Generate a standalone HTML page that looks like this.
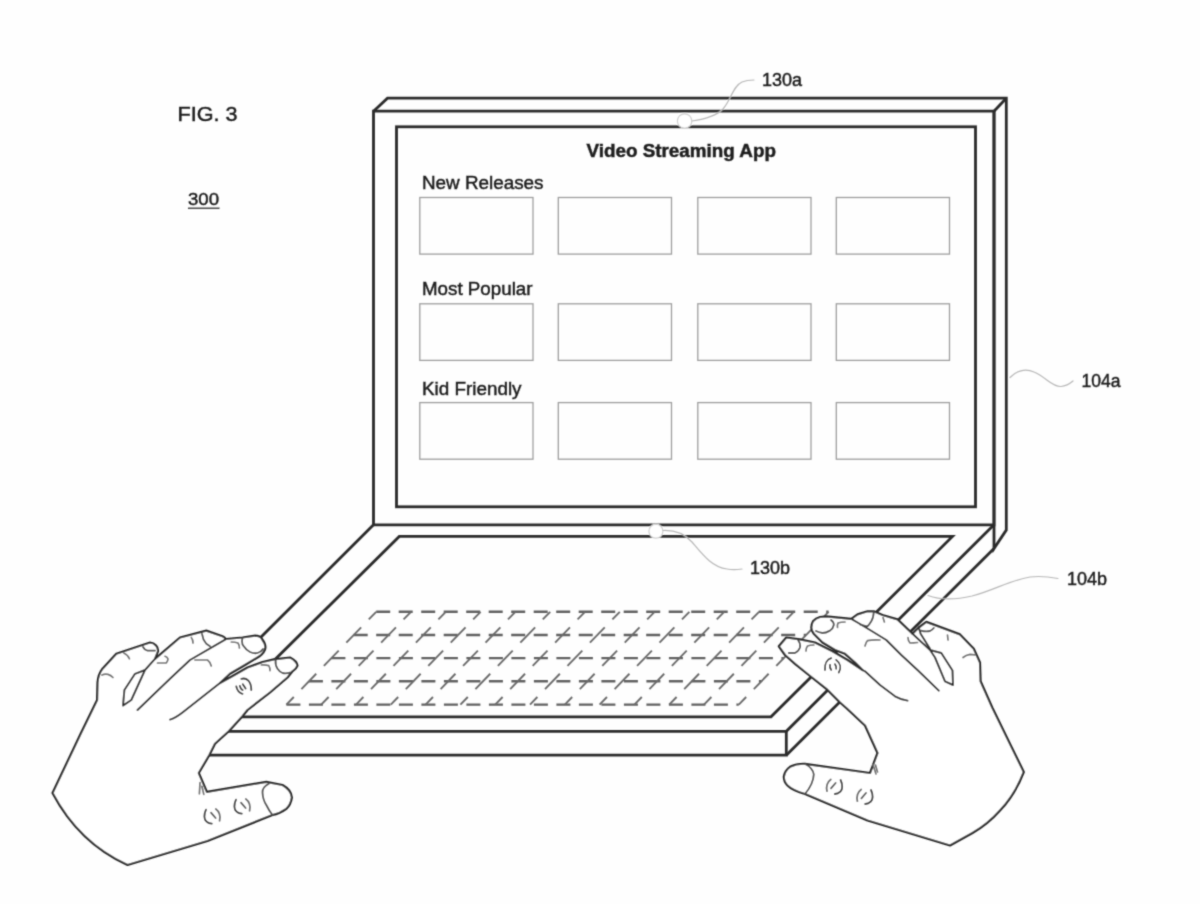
<!DOCTYPE html>
<html lang="en">
<head>
<meta charset="utf-8">
<title>FIG. 3 - Video Streaming App</title>
<style>
html,body{margin:0;padding:0;background:#fefefe;}
body{width:1200px;height:904px;overflow:hidden;font-family:"Liberation Sans",Arial,sans-serif;}
svg{display:block;}
</style>
</head>
<body>
<svg width="1200" height="904" viewBox="0 0 1200 904">
<defs><filter id="soft" x="0" y="0" width="100%" height="100%" filterUnits="userSpaceOnUse"><feConvolveMatrix order="3" kernelMatrix="1 4 1 4 16 4 1 4 1" divisor="36" edgeMode="duplicate" preserveAlpha="false"/></filter></defs>
<rect width="1200" height="904" fill="#fefefe"/>
<g filter="url(#soft)">
<g fill="none" stroke="#2a2a2a" stroke-width="2.8" stroke-linejoin="miter" stroke-linecap="butt">
<path d="M373.5,111.2 L387.5,98.2 L1006.3,98.2 L1006.3,530 L994,548.5 L994,111.2"/>
<path d="M994,111.2 L1006.3,98.2"/>
<path d="M373.5,524.8 L373.5,111.2 L994,111.2 L994,524.8 Z"/>
<rect x="396.5" y="126.8" width="579" height="380"/>
</g>
<g fill="none" stroke="#2a2a2a" stroke-width="2.8" stroke-linejoin="miter">
<path d="M373.5,524.8 L166.5,731.3 L786.3,731.3 L994,524.8"/>
<path d="M166.5,731.3 L166.5,755.2 L786.3,755.2 L786.3,731.3"/>
<path d="M786.3,755.2 L994,548.5"/>
<path d="M399.3,536.4 L952.5,536.4 L771,716.8 L217,716.8 Z"/>
</g>
<g fill="none" stroke="#9e9e9e" stroke-width="1.3">
<rect x="419.8" y="197.5" width="113.2" height="56.6"/>
<rect x="558.3" y="197.5" width="113.2" height="56.6"/>
<rect x="697.8" y="197.5" width="113.2" height="56.6"/>
<rect x="836.3" y="197.5" width="113.2" height="56.6"/>
<rect x="419.8" y="303.8" width="113.2" height="56.6"/>
<rect x="558.3" y="303.8" width="113.2" height="56.6"/>
<rect x="697.8" y="303.8" width="113.2" height="56.6"/>
<rect x="836.3" y="303.8" width="113.2" height="56.6"/>
<rect x="419.8" y="402.6" width="113.2" height="56.6"/>
<rect x="558.3" y="402.6" width="113.2" height="56.6"/>
<rect x="697.8" y="402.6" width="113.2" height="56.6"/>
<rect x="836.3" y="402.6" width="113.2" height="56.6"/>
</g>
<g fill="none" stroke="#606060" stroke-width="2.4" >
<path d="M376.2,611.8 L828.6,611.8" stroke-dasharray="14 8.5"/>
<path d="M353.7,635 L806.1,635" stroke-dasharray="14 8.5"/>
<path d="M331.4,658.1 L783.8,658.1" stroke-dasharray="14 8.5"/>
<path d="M308.9,681.3 L761.3,681.3" stroke-dasharray="14 8.5"/>
<path d="M286.4,704.6 L738.8,704.6" stroke-dasharray="14 8.5"/>
<path d="M376.2,611.8 L286.4,704.6" stroke-dasharray="21.31 10.98" stroke-dashoffset="10.65" stroke-width="1.9" stroke="#6a6a6a"/>
<path d="M411.0,611.8 L321.2,704.6" stroke-dasharray="21.31 10.98" stroke-dashoffset="10.65" stroke-width="1.9" stroke="#6a6a6a"/>
<path d="M445.8,611.8 L356.0,704.6" stroke-dasharray="21.31 10.98" stroke-dashoffset="10.65" stroke-width="1.9" stroke="#6a6a6a"/>
<path d="M480.6,611.8 L390.8,704.6" stroke-dasharray="21.31 10.98" stroke-dashoffset="10.65" stroke-width="1.9" stroke="#6a6a6a"/>
<path d="M515.4,611.8 L425.6,704.6" stroke-dasharray="21.31 10.98" stroke-dashoffset="10.65" stroke-width="1.9" stroke="#6a6a6a"/>
<path d="M550.2,611.8 L460.4,704.6" stroke-dasharray="21.31 10.98" stroke-dashoffset="10.65" stroke-width="1.9" stroke="#6a6a6a"/>
<path d="M585.0,611.8 L495.2,704.6" stroke-dasharray="21.31 10.98" stroke-dashoffset="10.65" stroke-width="1.9" stroke="#6a6a6a"/>
<path d="M619.8,611.8 L530.0,704.6" stroke-dasharray="21.31 10.98" stroke-dashoffset="10.65" stroke-width="1.9" stroke="#6a6a6a"/>
<path d="M654.6,611.8 L564.8,704.6" stroke-dasharray="21.31 10.98" stroke-dashoffset="10.65" stroke-width="1.9" stroke="#6a6a6a"/>
<path d="M689.4,611.8 L599.6,704.6" stroke-dasharray="21.31 10.98" stroke-dashoffset="10.65" stroke-width="1.9" stroke="#6a6a6a"/>
<path d="M724.2,611.8 L634.4,704.6" stroke-dasharray="21.31 10.98" stroke-dashoffset="10.65" stroke-width="1.9" stroke="#6a6a6a"/>
<path d="M759.0,611.8 L669.2,704.6" stroke-dasharray="21.31 10.98" stroke-dashoffset="10.65" stroke-width="1.9" stroke="#6a6a6a"/>
<path d="M793.8,611.8 L704.0,704.6" stroke-dasharray="21.31 10.98" stroke-dashoffset="10.65" stroke-width="1.9" stroke="#6a6a6a"/>
<path d="M828.6,611.8 L738.8,704.6" stroke-dasharray="21.31 10.98" stroke-dashoffset="10.65" stroke-width="1.9" stroke="#6a6a6a"/>
</g>
<g fill="none" stroke="#b8b8b8" stroke-width="1.2" stroke-linecap="round">
<circle cx="684.6" cy="121" r="7.2" fill="#fff" stroke="#cfcfcf"/>
<path d="M692,121 C706,119 716,116 723,109 C731,100 733,86 742,82 C746,80.3 750,80 754,80"/>
<circle cx="655.9" cy="531.2" r="7" fill="#fff" stroke="#cfcfcf"/>
<path d="M663,530.5 C675,530 684,533 692,542 C703,555 712,567 727,569 C733,570 738,569.5 742,569"/>
<path d="M1010,377.5 C1016,371 1025,368 1034,372 C1046,377 1052,387 1061,386.5 C1066,386 1070,383.5 1073,381"/>
<path d="M928,595.5 C940,600 955,600 972,596 C995,590 1010,580 1030,577 C1042,575.5 1050,577 1058,578.5"/>
</g>
<g fill="#fff" stroke="#2e2e2e" stroke-width="2.2" stroke-linejoin="round" stroke-linecap="round">
<path d="M52.5,793 L81,733 L97.1,700 L97.5,682.5 C98,676 100,672 102.5,668.7 L116.3,653.7 L150,642.5 C155,643 158.5,647 158,651.3 L155,658.8 L180,637.5 L206.3,630.6 L222.5,636.3 C224.5,637.3 225.3,638.2 225.6,639 L242.5,637.5 L255,635.6 C259,635.6 261,637 262,639 C265,643 266.3,646 265,649.5 C263.5,653 261,655.5 257.5,657.5 L245,665 L230,673.8 L220,683 L230,677.5 L247.5,667.5 L262.5,662 L273.8,659.4 L290,657.5 C294,659.5 297,662.5 297.5,665.6 C296.5,668.5 294.5,670 292.5,671.3 L287.5,677.5 L270,692.5 L247.5,710 L242.5,716.3 L228.8,731.3 L215,743.8 L209.4,755 L198.8,773 L206.9,791.9 L266.3,781.9 L282.5,785 C288,788 291.5,792.5 291.9,797.5 C291,803 289,806.5 286.3,808.8 C282,812 277.5,814 272.5,815 L207.5,841 L127.5,865 Q79,843 52.5,793 Z"/>
</g>
<g fill="none" stroke="#2e2e2e" stroke-width="1.95" stroke-linejoin="round" stroke-linecap="round">
<path d="M155,658.8 L145,670 L135,673.8 L124.4,690 L123,705.6 L131.3,700 L145,670"/>
<path d="M225.6,639.4 L190,660 L170,678.8 L137.5,710"/>
<path d="M220,683 L182.5,712.5 C178,716 174,718.5 170,719.6"/>
<path d="M202,633.8 C202.5,638 204,641 206.3,643.8 L210,646.3" stroke="#484848" stroke-width="1.8"/>
<path d="M242.5,638 C241.5,642 242,644.5 243.8,646.3 C245.5,649 247.5,650.8 250,652 C253,653.3 255.5,653.5 257.5,653 C260.5,652 262,650.5 263,649" stroke="#484848" stroke-width="1.8"/>
<path d="M275.6,660 C275.3,663.5 276,666.5 277.5,668.8 C279,671 280.5,672.3 282.5,673 C285,673.6 287.5,673.3 290,672.5" stroke="#484848" stroke-width="1.8"/>
<path d="M143,647 C144,649 145.5,650.2 147.5,650.6 L155,650.6" stroke="#484848" stroke-width="1.8"/>
<path d="M268.8,783.8 C264.5,786 262.3,789 262.5,792.5 C262.7,797.5 264,801.5 266.3,805 C268,808.5 270,812 272.5,815" stroke="#484848" stroke-width="1.8"/>
<path d="M123.8,653 C126.5,654.3 128.5,656.3 129.4,658.8" stroke="#6c6c6c" stroke-width="1.7"/>
<path d="M102,675 C104,674 106,674 108,674.4 C110,675 111.8,676.2 113,677.5" stroke="#6c6c6c" stroke-width="1.7"/>
<path d="M191.3,637.5 C192.5,639 193,641 193,643" stroke="#6c6c6c" stroke-width="1.7"/>
<path d="M195,660 L207.5,660 C209.5,661.5 210.8,663.5 211.3,666" stroke="#6c6c6c" stroke-width="1.7"/>
<path d="M231.3,642 C234,642 236,642.3 238,643 C239,644.5 239.4,646 239.4,648" stroke="#6c6c6c" stroke-width="1.7"/>
<path d="M261.3,665 C264,664.8 266.5,665 268.8,665.6 C269.7,667 270,668.8 270,670.6" stroke="#6c6c6c" stroke-width="1.7"/>
<path d="M157.5,663 L166.3,663 C167.5,661.5 168,660 168,658.8 C167.3,657.5 166.3,656.7 165,656.3" stroke="#6c6c6c" stroke-width="1.7"/>
<path d="M200,782.5 L199.4,793.8" stroke="#6c6c6c" stroke-width="1.7"/>
<path d="M201.9,786.3 L203.8,794.4" stroke="#6c6c6c" stroke-width="1.7"/>
<g transform="translate(243.8,686.3)" stroke-width="1.8"><path d="M-2.5,-7.5 C3,-9 7.5,-5 7.5,3.7"/><path d="M-7.5,0 C-7,4 -4,7 -1.3,7.5"/><path d="M-1,-2 L1.8,2.2"/><path d="M-4,-0.5 C-3.6,1.5 -2.6,3 -1.2,3.8"/></g>
<g transform="translate(212.3,816.3) rotate(0) scale(1.0)" stroke-width="1.8"><path d="M3.5,-7.3 C7,-5 8.5,0 7.3,4.5" stroke="#666"/><path d="M-1.3,-3.7 L3.3,1.7" stroke="#555"/><path d="M-6.3,-6.7 C-8.5,-2 -8.5,3 -6,5 C-4,7 -2,7.3 -0.5,7.3"/></g>
<g transform="translate(242.3,806.3) rotate(0) scale(1.0)" stroke-width="1.8"><path d="M3.5,-7.3 C7,-5 8.5,0 7.3,4.5" stroke="#666"/><path d="M-1.3,-3.7 L3.3,1.7" stroke="#555"/><path d="M-6.3,-6.7 C-8.5,-2 -8.5,3 -6,5 C-4,7 -2,7.3 -0.5,7.3"/></g>
</g>
<g fill="#fff" stroke="#2e2e2e" stroke-width="2.2" stroke-linejoin="round" stroke-linecap="round">
<path d="M778.8,646.3 L786.3,637.5 L800,639.4 L815,642.5 L832.5,651.3 L847.5,660 L862.5,670 L855,662.5 L845,653.8 L835,650 L822.5,642.5 L813.8,633.8 C812,631.5 811.3,629.5 811.3,627.5 C811.5,625 812,623 813,621.3 C815,619 817.5,617.7 820,617 L826.3,616.3 L851.3,618.8 L857.5,614.4 L867.5,611.3 L873.8,611.3 L882.5,615 L897.5,619.4 L912.5,633.8 L918.8,627.5 L926.3,621.9 L960,634.4 L973.8,648.8 L980,662.5 L980.6,681.3 L992.5,708 L1023.8,772 C1018,787 1010,800 1000,810.5 C992,819.5 983,827 972.5,833 L950,845.5 L867.5,820.5 L805,794 C798,792 791.5,789.5 787.5,785.5 C785,783 783.8,780 783.8,776.8 C784.5,772.5 786.5,769.3 790,766.8 C794.5,764.5 799.5,763.5 805,763.8 L870,773 L877.5,753 L865,725.5 L846.3,708 L840,702.5 L826.3,688.8 L808.8,675 L795,663.8 L785,655 Z"/>
</g>
<g fill="none" stroke="#2e2e2e" stroke-width="1.95" stroke-linejoin="round" stroke-linecap="round">
<path d="M862.5,670 L865,671.3 L880,685 L895,696.3 C899,698.5 903,700 907.5,700.6"/>
<path d="M851.3,618.8 L857.5,622.5 L870,630 L886.3,640 L901.3,655 L917.5,670 L938.8,690.6"/>
<path d="M912.5,633.8 L930,650 L941.3,653 L952.5,670.6 L953,685 L945,681.3 L935,657.5 L930,650"/>
<path d="M918.8,627.5 L920.6,633.8 L930,648.8"/>
<path d="M798,640 C800,642.5 800.5,645 800,647.5 C799,650 797.5,652 795,653 L788.8,653" stroke="#484848" stroke-width="1.8"/>
<path d="M831,620 C833,621.5 834,623 833.8,625 C833.3,627.5 832,629.3 830,630.6 C827.5,632 825,633 822.5,633 C820,632.7 818,632 816,631" stroke="#484848" stroke-width="1.8"/>
<path d="M873.8,612 C873.5,616 872.8,619 871.3,621.3 C870,623.5 869,625 867.5,626.3 C865,626 862.5,625.3 860,624.4" stroke="#484848" stroke-width="1.8"/>
<path d="M921,630.6 C924,631.5 927,631.7 930,631 C931.5,630.3 932.8,629.3 933.8,628" stroke="#484848" stroke-width="1.8"/>
<path d="M805,763.8 C810,766.5 813,770 813.8,774.3 C813.5,781 810.5,787.5 805,794" stroke="#484848" stroke-width="1.8"/>
<path d="M806,651 C806,649 806.5,647.3 807.5,646 C809.5,645.2 811.5,645 813.8,645" stroke="#6c6c6c" stroke-width="1.7"/>
<path d="M837.5,627.5 C837.3,625.5 837.5,624 838,623 C840,622.3 842.5,622 845,622" stroke="#6c6c6c" stroke-width="1.7"/>
<path d="M865,646 C865.5,643.5 866.3,641.8 867.5,640.6 C871.5,639.8 875.5,639.8 880,640" stroke="#6c6c6c" stroke-width="1.7"/>
<path d="M883,617.5 L884.4,622" stroke="#6c6c6c" stroke-width="1.7"/>
<path d="M908,637.5 C908,640 908.8,641.8 910,643 C912.5,643 915,642.8 917.5,642.5" stroke="#6c6c6c" stroke-width="1.7"/>
<path d="M947.5,635 L948,640" stroke="#6c6c6c" stroke-width="1.7"/>
<path d="M963,657.5 C965,655.8 967.5,654.8 970,654.4 C972,654.4 973.5,654.6 975,655" stroke="#6c6c6c" stroke-width="1.7"/>
<path d="M872.8,764 L876,774" stroke="#6c6c6c" stroke-width="1.7"/>
<path d="M875.5,765 L877.5,772" stroke="#6c6c6c" stroke-width="1.7"/>
<g transform="translate(832.5,666.2)" stroke-width="1.8"><path d="M-7.5,3.7 C-8,-3 -5,-7 -1.3,-8"/><path d="M3.7,-6.3 C8,-3 9,2 6.3,6.3"/><path d="M-2.5,-1.3 C-3,1.5 -2,3 -1.3,3.7"/><path d="M2.5,-2 C4,0 4,1.5 3.7,2.5"/></g>
<g transform="translate(834.3,786.7) rotate(0) scale(1.0)" stroke-width="1.8"><path d="M-3.5,-7.3 C-7,-5 -8.5,0 -7.3,4.5" stroke="#666"/><path d="M1.3,-3.7 L-3.3,1.7" stroke="#555"/><path d="M6.3,-6.7 C8.5,-2 8.5,3 6,5 C4,7 2,7.3 0.5,7.3"/></g>
<g transform="translate(864.7,796.7) rotate(0) scale(1.0)" stroke-width="1.8"><path d="M-3.5,-7.3 C-7,-5 -8.5,0 -7.3,4.5" stroke="#666"/><path d="M1.3,-3.7 L-3.3,1.7" stroke="#555"/><path d="M6.3,-6.7 C8.5,-2 8.5,3 6,5 C4,7 2,7.3 0.5,7.3"/></g>
</g>
<g font-family="'Liberation Sans', Arial, Helvetica, sans-serif" fill="#1c1c1c" stroke="#1c1c1c" stroke-width="0.45">
<text x="177.5" y="121.3" font-size="20" textLength="60" lengthAdjust="spacingAndGlyphs">FIG. 3</text>
<text x="188" y="205" font-size="17" textLength="31" lengthAdjust="spacingAndGlyphs">300</text>
<path d="M188,208.2 L219.5,208.2" stroke="#1c1c1c" stroke-width="1.2" fill="none"/>
<text x="586.5" y="157.3" font-size="18" font-weight="bold" textLength="189.5" lengthAdjust="spacingAndGlyphs">Video Streaming App</text>
<text x="422" y="189" font-size="18" textLength="121.5" lengthAdjust="spacingAndGlyphs">New Releases</text>
<text x="422" y="295" font-size="18" textLength="110.5" lengthAdjust="spacingAndGlyphs">Most Popular</text>
<text x="422" y="395.2" font-size="18" textLength="99.5" lengthAdjust="spacingAndGlyphs">Kid Friendly</text>
<text x="762" y="85.6" font-size="18" textLength="40" lengthAdjust="spacingAndGlyphs">130a</text>
<text x="750" y="574" font-size="18" textLength="40" lengthAdjust="spacingAndGlyphs">130b</text>
<text x="1081.5" y="387" font-size="18" textLength="39" lengthAdjust="spacingAndGlyphs">104a</text>
<text x="1067" y="584.6" font-size="18" textLength="40" lengthAdjust="spacingAndGlyphs">104b</text>
</g>
</g>
</svg>
</body>
</html>
